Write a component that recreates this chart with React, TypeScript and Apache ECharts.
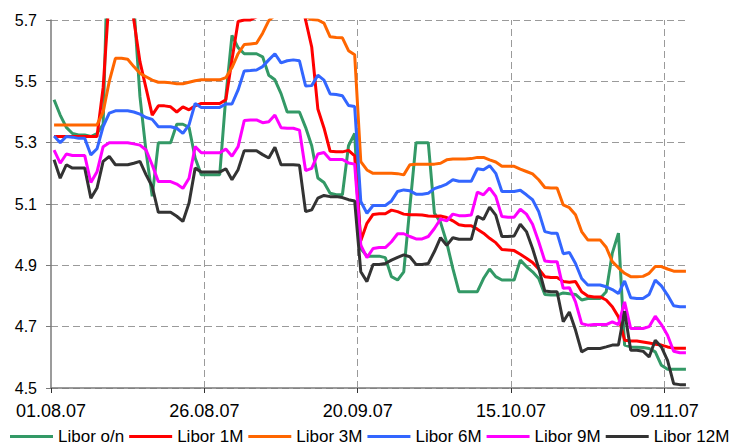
import React, { useEffect, useRef } from "react";
import * as echarts from "echarts";

// Calendar days from 01.08.07; each point sits in the middle of its day
const START_UTC = Date.UTC(2007, 7, 1);
const DAY_SPAN = 104;
const xTickDays = [0, 25, 50, 75, 100];
const seriesNames = ["Libor o/n", "Libor 1M", "Libor 3M", "Libor 6M", "Libor 9M", "Libor 12M"];
const seriesColors = ["#339966", "#FF0000", "#FF6600", "#3366FF", "#FF00FF", "#333333"];

const liborON = [
  5.44, 5.39, 5.35, 5.33, 5.325, 5.325, 5.32, 5.33, 5.36, 6.1,
  5.95, 5.95, 5.9, 5.75, 5.45, 5.27, 5.125, 5.3, 5.3, 5.3,
  5.36, 5.36, 5.35, 5.25, 5.195, 5.195, 5.195, 5.195, 5.45, 5.65,
  5.61, 5.59, 5.59, 5.59, 5.58, 5.52, 5.505, 5.46, 5.4, 5.4,
  5.4, 5.35, 5.29, 5.185, 5.17, 5.135, 5.13, 5.13, 5.29, 5.33,
  4.955, 4.93, 4.93, 4.93, 4.925, 4.863, 4.852, 4.879, 5.09, 5.3,
  5.3, 5.3, 5.07, 5.04, 4.975, 4.89, 4.814, 4.814, 4.814, 4.814,
  4.857, 4.888, 4.863, 4.852, 4.852, 4.852, 4.917, 4.896, 4.879, 4.857,
  4.805, 4.803, 4.803, 4.81, 4.807, 4.805, 4.787, 4.792, 4.792, 4.792,
  4.814, 4.94, 5.005, 4.64, 4.634, 4.633, 4.632, 4.629, 4.618, 4.574,
  4.561, 4.561, 4.561, 4.561,
];
const libor1M = [
  5.32, 5.32, 5.32, 5.32, 5.32, 5.32, 5.32, 5.32, 5.48, 5.78,
  5.82, 5.82, 5.8, 5.7, 5.564, 5.477, 5.39, 5.42, 5.42, 5.417,
  5.4, 5.417, 5.407, 5.42, 5.428, 5.428, 5.428, 5.428, 5.44, 5.57,
  5.695, 5.7, 5.7, 5.71, 5.76, 5.78, 5.8, 5.8, 5.8, 5.8,
  5.78, 5.7, 5.612, 5.41, 5.348, 5.272, 5.27, 5.27, 5.275, 5.257,
  4.98, 5.037, 5.066, 5.068, 5.068, 5.08, 5.075, 5.067, 5.065, 5.065,
  5.064, 5.061, 5.06, 5.061, 5.056, 5.045, 5.032, 5.029, 5.029, 5.018,
  5.005, 4.988, 4.974, 4.952, 4.95, 4.948, 4.936, 4.923, 4.909, 4.888,
  4.863, 4.86, 4.86, 4.847, 4.845, 4.847, 4.814, 4.8, 4.797, 4.797,
  4.787, 4.765, 4.732, 4.656, 4.653, 4.653, 4.65, 4.647, 4.643, 4.64,
  4.634, 4.63, 4.63, 4.63,
];
const libor3M = [
  5.358, 5.358, 5.358, 5.358, 5.358, 5.358, 5.358, 5.358, 5.4, 5.5,
  5.575, 5.575, 5.572, 5.548, 5.526, 5.515, 5.504, 5.497, 5.497, 5.495,
  5.492, 5.492, 5.497, 5.502, 5.505, 5.505, 5.505, 5.505, 5.512, 5.545,
  5.59, 5.62, 5.622, 5.624, 5.657, 5.698, 5.715, 5.72, 5.72, 5.72,
  5.72, 5.71, 5.702, 5.7, 5.69, 5.645, 5.643, 5.642, 5.6, 5.587,
  5.238, 5.211, 5.2, 5.2, 5.2, 5.2, 5.199, 5.195, 5.228, 5.23,
  5.23, 5.23, 5.23, 5.233, 5.244, 5.247, 5.247, 5.247, 5.248, 5.252,
  5.252, 5.244, 5.237, 5.223, 5.223, 5.223, 5.214, 5.206, 5.198, 5.179,
  5.154, 5.152, 5.152, 5.097, 5.088, 5.065, 5.01, 4.983, 4.983, 4.983,
  4.959, 4.912, 4.892, 4.874, 4.863, 4.863, 4.864, 4.874, 4.896, 4.896,
  4.888, 4.881, 4.881, 4.881,
];
const libor6M = [
  5.322, 5.3, 5.32, 5.318, 5.314, 5.314, 5.26, 5.28, 5.352, 5.396,
  5.404, 5.404, 5.404, 5.4, 5.393, 5.382, 5.376, 5.352, 5.352, 5.352,
  5.347, 5.33, 5.358, 5.428, 5.415, 5.415, 5.415, 5.415, 5.426, 5.426,
  5.472, 5.534, 5.535, 5.537, 5.548, 5.57, 5.59, 5.56, 5.567, 5.57,
  5.567, 5.485, 5.486, 5.52, 5.504, 5.459, 5.457, 5.453, 5.421, 5.418,
  5.108, 5.07, 5.095, 5.095, 5.095, 5.11, 5.141, 5.146, 5.143, 5.132,
  5.132, 5.135, 5.15, 5.157, 5.165, 5.179, 5.174, 5.174, 5.174, 5.215,
  5.212, 5.225, 5.2, 5.141, 5.141, 5.141, 5.145, 5.13, 5.114, 5.075,
  5.01, 5.005, 5.005, 4.938, 4.942, 4.906, 4.857, 4.836, 4.836, 4.836,
  4.83, 4.821, 4.808, 4.849, 4.794, 4.792, 4.792, 4.805, 4.852, 4.833,
  4.803, 4.768, 4.765, 4.765,
];
const libor9M = [
  5.276, 5.233, 5.263, 5.258, 5.258, 5.258, 5.17, 5.205, 5.287, 5.3,
  5.3, 5.3, 5.3, 5.296, 5.292, 5.276, 5.227, 5.173, 5.173, 5.173,
  5.165, 5.151, 5.184, 5.287, 5.267, 5.267, 5.267, 5.267, 5.279, 5.256,
  5.287, 5.372, 5.374, 5.374, 5.365, 5.368, 5.39, 5.349, 5.347, 5.347,
  5.341, 5.209, 5.216, 5.263, 5.268, 5.245, 5.245, 5.245, 5.234, 5.23,
  4.966, 4.925, 4.955, 4.958, 4.958, 4.977, 5.003, 5.003, 4.994, 4.986,
  4.986, 4.994, 5.02, 5.051, 5.045, 5.067, 5.062, 5.062, 5.064, 5.139,
  5.13, 5.152, 5.125, 5.059, 5.057, 5.057, 5.083, 5.067, 5.034, 4.977,
  4.914, 4.912, 4.912, 4.825, 4.827, 4.781, 4.71, 4.705, 4.707, 4.707,
  4.707, 4.716, 4.707, 4.781, 4.694, 4.694, 4.694, 4.7, 4.734, 4.707,
  4.672, 4.62, 4.615, 4.615,
];
const libor12M = [
  5.244, 5.184, 5.228, 5.217, 5.217, 5.217, 5.119, 5.152, 5.239, 5.255,
  5.228, 5.228, 5.228, 5.233, 5.239, 5.195, 5.157, 5.073, 5.073, 5.073,
  5.06, 5.043, 5.103, 5.217, 5.204, 5.204, 5.204, 5.204, 5.215, 5.179,
  5.212, 5.274, 5.274, 5.274, 5.261, 5.25, 5.285, 5.228, 5.228, 5.228,
  5.226, 5.075, 5.081, 5.119, 5.128, 5.124, 5.124, 5.121, 5.114, 5.11,
  4.879, 4.847, 4.903, 4.903, 4.906, 4.917, 4.926, 4.934, 4.928, 4.903,
  4.903, 4.906, 4.945, 4.99, 4.965, 4.99, 4.985, 4.985, 4.985, 5.06,
  5.05, 5.09, 5.064, 4.994, 4.994, 4.996, 5.034, 5.01, 4.955, 4.89,
  4.816, 4.814, 4.814, 4.716, 4.748, 4.689, 4.618, 4.629, 4.629, 4.629,
  4.634, 4.64, 4.64, 4.75, 4.623, 4.623, 4.62, 4.601, 4.656, 4.634,
  4.59, 4.514, 4.511, 4.511,
];
const allValues = [liborON, libor1M, libor3M, libor6M, libor9M, libor12M];

const pad = (n: number) => (n < 10 ? "0" + n : "" + n);
const dayLabel = (day: number) => {
  const d = new Date(START_UTC + Math.round(day) * 86400000);
  return pad(d.getUTCDate()) + "." + pad(d.getUTCMonth() + 1) + "." + pad(d.getUTCFullYear() % 100);
};

const FONT = "'Liberation Sans', Arial, sans-serif";

export default function App() {
  const ref = useRef<HTMLDivElement>(null);
  useEffect(() => {
    if (!ref.current) return;
    const chart = echarts.init(ref.current, null, { renderer: "svg" });
    const series: any[] = allValues.map((vals, si) => ({
      name: seriesNames[si],
      type: "line",
      data: vals.map((v, i) => [i + 0.5, v]),
      showSymbol: false,
      symbol: "none",
      lineStyle: { width: 3, color: seriesColors[si] },
      itemStyle: { color: seriesColors[si] },
      clip: true,
      z: 2 + si * 0.01,
      silent: true,
    }));
    series[0].markLine = {
      silent: true,
      symbol: ["none", "none"],
      z: 1,
      label: { show: false },
      lineStyle: { type: [7, 4], color: "#9a9a9a", width: 1 },
      emphasis: { disabled: true },
      data: xTickDays.filter((d) => d > 0).map((d) => ({ xAxis: d })),
    };
    chart.setOption({
      animation: false,
      backgroundColor: "#ffffff",
      grid: { left: 51, right: 47, top: 20, bottom: 57, containLabel: false, outerBoundsMode: "none" },
      legend: {
        data: seriesNames,
        left: 10,
        top: 428,
        padding: 0,
        icon: "rect",
        itemWidth: 43,
        itemHeight: 3,
        itemGap: 5,
        textStyle: { fontFamily: FONT, fontSize: 17, lineHeight: 17, color: "#000" },
        selectedMode: false,
      },
      xAxis: {
        type: "value",
        min: 0,
        max: DAY_SPAN,
        interval: 25,
        axisLine: { show: true, lineStyle: { color: "#7a7a7a", width: 1.5 } },
        axisTick: { show: true, length: 5, customValues: xTickDays, lineStyle: { color: "#333" } },
        axisLabel: {
          customValues: xTickDays,
          margin: 14,
          fontFamily: FONT,
          fontSize: 18,
          color: "#000",
          formatter: (v: number) => dayLabel(v),
        },
        splitLine: { show: false },
      },
      yAxis: {
        type: "value",
        min: 4.5,
        max: 5.7,
        interval: 0.2,
        axisLine: { show: true, lineStyle: { color: "#7a7a7a", width: 1.5 } },
        axisTick: { show: true, length: 5, lineStyle: { color: "#7a7a7a" } },
        axisLabel: {
          margin: 14,
          fontFamily: FONT,
          fontSize: 16,
          color: "#000",
          formatter: (v: number) => v.toFixed(1),
        },
        splitLine: { show: true, lineStyle: { type: [7, 4], color: "#9a9a9a", width: 1 } },
      },
      series,
    });
    return () => chart.dispose();
  }, []);
  return (
    <div
      ref={ref}
      style={{ position: "fixed", left: 0, top: 0, width: 736, height: 445, background: "#fff" }}
    />
  );
}
